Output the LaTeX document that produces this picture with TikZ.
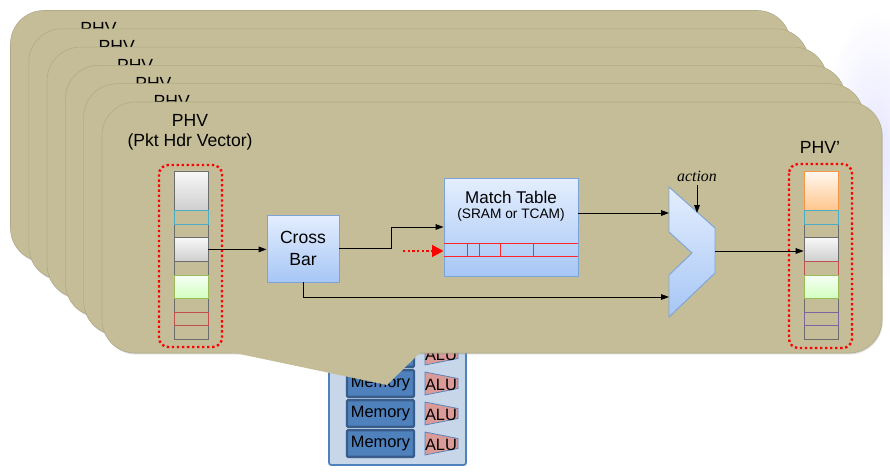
\documentclass[tikz,border=0pt]{standalone}
\usepackage{fontspec}
\setmainfont{Liberation Sans}
\newfontfamily\actfont{Liberation Serif}
\usetikzlibrary{arrows.meta,positioning,shadows,calc}
\definecolor{cardtan}{HTML}{C4BD97}
\definecolor{bluetop}{HTML}{E4EEFE}
\definecolor{bluebot}{HTML}{A7C6F5}
\definecolor{blueline}{HTML}{7DA4D8}
\definecolor{memfill}{HTML}{4F81BD}
\definecolor{memline}{HTML}{385D8A}
\definecolor{bankfill}{HTML}{C8D6E9}
\definecolor{alufill}{HTML}{DA9A98}
\definecolor{segcyan}{HTML}{4BACC6}
\definecolor{segred}{HTML}{C0504D}
\definecolor{segpurple}{HTML}{8064A2}
\definecolor{seggreen}{HTML}{9BBB59}
\definecolor{segorange}{HTML}{F79646}
\tikzset{
  card/.style={fill=cardtan,draw=cardtan!90!black,line width=0.5pt,rounded corners=1cm,drop shadow={opacity=0.3,shadow xshift=0.6pt,shadow yshift=-1.2pt}},
  ttl/.style={font=\fontsize{15}{18}\selectfont,inner sep=0pt},
  blk/.style={draw=blueline,line width=0.8pt,top color=bluetop,bottom color=bluebot,align=center,font=\fontsize{15}{19}\selectfont},
  seg/.style={draw=gray!85!black,minimum width=1.02cm,inner sep=0pt,line width=0.7pt},
  gseg/.style={seg,top color=gray!6,bottom color=gray!38},
  vseg/.style={seg,draw=seggreen,top color=green!4!white,bottom color=green!70!yellow!25!white},
  oseg/.style={seg,draw=segorange,top color=orange!6!white,bottom color=orange!45!white},
  cseg/.style={seg,draw=segcyan},
  rseg/.style={seg,draw=segred},
  pseg/.style={seg,draw=segpurple},
  dotbox/.style={draw=red,line width=2pt,dash pattern=on 2pt off 2.3pt,rounded corners=8pt},
  arr/.style={-{Triangle[length=2.4mm,width=1.7mm]},line width=0.8pt},
  redarr/.style={-{Triangle[length=3.4mm,width=3.4mm]},red,line width=2.2pt,dash pattern=on 2pt off 2pt},
  rowline/.style={draw=red!85!white,line width=0.8pt},
  mem/.style={draw=memline,fill=memfill,line width=2pt,minimum width=1.95cm,minimum height=0.8cm,rounded corners=1pt,font=\fontsize{14}{16}\selectfont},
  alu/.style={fill=alufill,draw=memfill,line width=0.6pt},
  alutxt/.style={font=\fontsize{14}{16}\selectfont,inner sep=0pt}
}
\begin{document}
\begin{tikzpicture}[x=0.03cm,y=-0.03cm]
\fill[white] (0,0) rectangle (890,472);
\useasboundingbox (0,0) rectangle (890,472);
\shade[inner color=blue!10,outer color=white] (875,150) ellipse (55 and 140);
\draw[draw=memfill,fill=bankfill,line width=1.5pt,rounded corners=2pt] (329,335) rectangle (466,465);
\foreach \i/\y in {1/353.5,2/383.5,3/413.5,4/443.5} {
  \node[mem] (mem\i) at (380.5,\y) {Memory};
  \draw[alu] (425,\y-11.5) -- (458,\y-5) -- (458,\y+5) -- (425,\y+11.5) -- cycle;
  \node[alutxt] (alu\i) at (441,\y+1) {ALU};
}
\foreach \k in {5,4,3,2,1} {
  \begin{scope}[shift={(-18.3*\k,-18.3*\k)}]
    \path[card] (102,102) rectangle (882,353);
    \node[ttl] (phv\k) at (190,120) {PHV};
    \node[ttl] (pkt\k) at (190,142) {(Pkt Hdr Vector)};
  \end{scope}
}
\path[card] (102,102) rectangle (882,353);
\fill[cardtan] (173,340) -- (387,385) -- (433,340) -- cycle;
\node[ttl] (phv0) at (190,120) {PHV};
\node[ttl] (pkt0) at (190,142) {(Pkt Hdr Vector)};
\node[ttl] (phvout) at (820,147) {PHV’};
\foreach \n/\a/\b/\s in {e1/224/237/seg,e2/261/275/seg,e3/298/312/seg,e4/325/339/seg,g1/171/210/gseg,c1/210/224/cseg,g2/237/261/gseg,v1/275/298/vseg,r1/312/325/rseg}
  \node[\s,minimum height={(\b-\a)*0.03cm},anchor=north] (l\n) at (191,\a) {};
\foreach \n/\a/\b/\s in {e1/224/237/seg,e3/298/312/seg,e4/325/339/seg,o1/171/210/oseg,c1/210/224/cseg,g2/237/261/gseg,r1/261/275/rseg,v1/275/298/vseg,p1/312/325/pseg}
  \node[\s,minimum height={(\b-\a)*0.03cm},anchor=north] (r\n) at (821,\a) {};
\draw[dotbox] (159,165) rectangle (222,347);
\draw[dotbox] (789,164) rectangle (852,348);
\node[blk,minimum width=2.16cm,minimum height=2.01cm] (xbar) at (303,248.5) {Cross\\Bar};
\node[blk,minimum width=4.02cm,minimum height=2.94cm] (mt) at (511,227) {};
\node[ttl,font=\fontsize{14.5}{17}\selectfont] (mtname) at (511,197) {Match Table};
\node[inner sep=0pt,font=\fontsize{11.7}{14}\selectfont] (mtmem) at (511,215) {(SRAM or TCAM)};
\draw[rowline] (444,243) -- (578,243) (444,256) -- (578,256);
\foreach \x in {467,479,500,533} \draw[rowline] (\x,243) -- (\x,256);
\draw[draw=blueline,line width=0.8pt,top color=bluetop,bottom color=bluebot] (669,187) -- (715,228) -- (715,273) -- (669,317) -- (669,275) -- (692,253) -- (669,232) -- cycle;
\coordinate (ain1) at (669,213);
\coordinate (ain2) at (669,297);
\coordinate (aout) at (715,251);
\coordinate (atip) at (697,213);
\coordinate (rs) at (403,251);
\node[font=\actfont\itshape\fontsize{13.5}{15}\selectfont] (actl) at (697,176) {action};
\draw[arr] (lg2.east) -- (xbar.west |- lg2.east);
\draw[arr] (xbar.east) -- ++(52,0) |- (mt.west);
\draw[arr] (xbar.south) |- (ain2);
\draw[arr] (mt.east |- ain1) -- (ain1);
\draw[redarr] (rs) -- (rs -| mt.west);
\draw[arr] (actl.south) -- (atip);
\draw[arr] (aout) -- (aout -| rg2.west);
\end{tikzpicture}
\end{document}
